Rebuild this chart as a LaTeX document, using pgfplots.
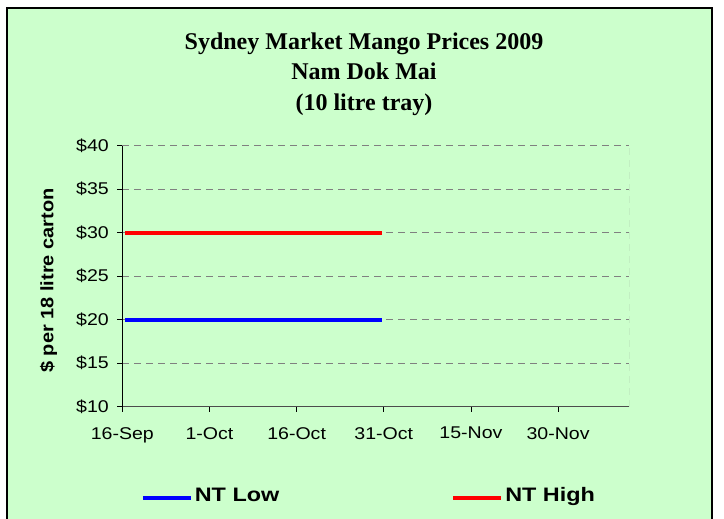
\documentclass[border=0pt]{standalone}
\usepackage{pgfplots}
\pgfplotsset{compat=1.18}
\usepackage{fontspec}
\setmainfont{Liberation Sans}
\newfontfamily\titlefont{Liberation Serif}
\newfontfamily\tickfont{Liberation Sans}[FakeStretch=1.15]
\newfontfamily\legfont{Liberation Sans}[FakeStretch=1.2]
\newfontfamily\labfont{Liberation Sans}[FakeStretch=1.11]
\definecolor{bg}{RGB}{204,255,204}
\begin{document}
\begin{tikzpicture}
\useasboundingbox (0bp,0bp) rectangle (724bp,519bp);
\fill[white] (0bp,0bp) rectangle (724bp,519bp);
\fill[bg] (7bp,-10bp) rectangle (712bp,511bp);
\draw[line width=1.2bp] (7bp,-10bp) rectangle (712bp,511bp);
\node[align=center,font=\titlefont\bfseries\fontsize{24bp}{30.5bp}\selectfont] at (364bp,445bp) {Sydney Market Mango Prices 2009\\Nam Dok Mai\\(10 litre tray)};
\begin{axis}[
  at={(122.3bp,112.3bp)}, anchor=south west,
  scale only axis, width=506.7bp, height=261bp,
  xmin=0, xmax=87.2, ymin=10, ymax=40,
  axis x line*=bottom, axis y line*=left,
  x axis line style={draw=black!70, line width=1.2bp},
  y axis line style={draw=black, line width=0.9bp},
  xtick={0,15,30,45,60,75},
  xticklabels={16-Sep,1-Oct,16-Oct,31-Oct,15-Nov,30-Nov},
  ytick={10,15,20,25,30,35,40},
  yticklabels={\$10,\$15,\$20,\$25,\$30,\$35,\$40},
  /pgf/number format/assume math mode=true,
  tick align=outside, major tick length=5bp,
  tick style={black, line width=0.8bp},
  ticklabel style={font=\tickfont\fontsize{17bp}{20bp}\selectfont},
  xticklabel style={yshift=-12bp},
  yticklabel style={xshift=-5bp},
  ymajorgrids, major grid style={gray, line width=0.8bp, dash pattern=on 7bp off 5bp},
  ylabel={\$ per 18 litre carton},
  ylabel style={at={(axis description cs:-0.1457,0.4835)}, anchor=center, font=\labfont\bfseries\fontsize{18bp}{20bp}\selectfont},
  legend columns=2,
  legend style={at={(axis description cs:0.4867,-0.340)}, anchor=center, draw=none, fill=none,
    font=\legfont\bfseries\fontsize{19.5bp}{22bp}\selectfont,
    /tikz/every even column/.append style={column sep=170bp}},
  legend image code/.code={\draw[#1,line width=4bp] (0bp,-3bp) -- (48bp,-3bp);},
]
\draw[gray, line width=0.8bp, dash pattern=on 7bp off 5bp] (rel axis cs:1,0) -- (rel axis cs:1,1);
\addplot[color={rgb,255:red,0;green,0;blue,255}, line width=4bp, line cap=butt] coordinates {(0.5,20) (44.7,20)};
\addlegendentry{NT Low}
\addplot[color={rgb,255:red,255;green,0;blue,0}, line width=4bp, line cap=butt] coordinates {(0.5,30) (44.7,30)};
\addlegendentry{NT High}
\end{axis}
\end{tikzpicture}
\end{document}
